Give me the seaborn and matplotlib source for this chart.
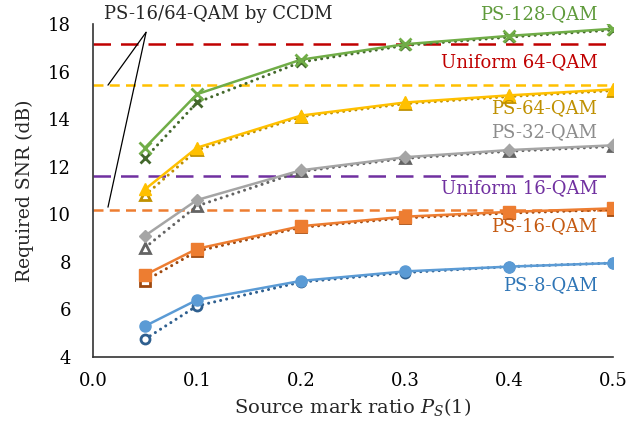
import pandas as pd
import seaborn as sns
import matplotlib.pyplot as plt

# data
ps_ratio = [0.05, 0.1, 0.2, 0.3, 0.4, 0.5]

ps8 = [5.3, 6.4, 7.2, 7.6, 7.8, 7.95]
ps8_ccdm = [4.75, 6.15, 7.15, 7.55, 7.8, 7.95]
ps16 = [7.45, 8.55, 9.5, 9.9, 10.1, 10.25]
ps16_ccdm = [7.2, 8.45, 9.45, 9.85, 10.05, 10.2]
ps32 = [9.1, 10.6, 11.85, 12.4, 12.7, 12.9]
ps32_ccdm = [8.6, 10.35, 11.8, 12.35, 12.65, 12.85]
ps64 = [11.05, 12.8, 14.15, 14.7, 15.0, 15.25]
ps64_ccdm = [10.8, 12.7, 14.1, 14.65, 14.95, 15.2]
ps128 = [12.8, 15.05, 16.5, 17.15, 17.5, 17.8]
ps128_ccdm = [12.35, 14.7, 16.4, 17.1, 17.45, 17.75]

uniform64 = 17.15
uniform64_ref = 15.43   # yellow dashed (PS-64 reference)
uniform16 = 11.6
uniform16_ref = 10.2    # orange dashed (PS-16 reference)

sns.set_style('white')
plt.rcParams['font.family'] = ['DejaVu Serif']
plt.rcParams['mathtext.fontset'] = 'dejavuserif'

fig = plt.figure(figsize=(6.41, 4.30), dpi=100)
ax = fig.add_axes([93 / 641, 1 - 357 / 430, 520 / 641, 333 / 430])

# reference horizontal lines
ax.axhline(uniform64, color='#C00000', lw=1.8, dashes=(7, 4), zorder=1)
ax.axhline(uniform64_ref, color='#FFC000', lw=1.8, dashes=(4, 2.5), zorder=1)
ax.axhline(uniform16, color='#7030A0', lw=1.8, dashes=(7, 4), zorder=1)
ax.axhline(uniform16_ref, color='#ED7D31', lw=1.8, dashes=(4, 2.5), zorder=1)

# (values, color, marker, filled)
series = [
    (ps8_ccdm, '#2E5F8F', 'o', False),
    (ps16_ccdm, '#9E480E', 's', False),
    (ps32_ccdm, '#636363', '^', False),
    (ps64_ccdm, '#BF9000', '^', False),
    (ps128_ccdm, '#43682B', 'x', False),
    (ps8, '#5B9BD5', 'o', True),
    (ps16, '#ED7D31', 's', True),
    (ps32, '#A5A5A5', 'D', True),
    (ps64, '#FFC000', '^', True),
    (ps128, '#70AD47', 'x', True),
]

for vals, col, mk, filled in series:
    df = pd.DataFrame({'x': ps_ratio, 'y': vals})
    if filled:
        sns.lineplot(data=df, x='x', y='y', ax=ax, color=col, lw=1.8,
                     marker=mk, markersize=8 if mk != 'D' else 6.5,
                     mfc=col, mec=col, mew=2 if mk == 'x' else 1, zorder=3)
    else:
        sns.lineplot(data=df, x='x', y='y', ax=ax, color=col, lw=2.2,
                     linestyle=(0, (0.01, 2.0)), dash_capstyle='round',
                     marker=mk, markersize=6.5, mfc='white' if mk != 'x' else col,
                     mec=col, mew=2, zorder=2)

ax.set_xlim(0, 0.5)
ax.set_ylim(4, 18)
ax.set_xticks([0.0, 0.1, 0.2, 0.3, 0.4, 0.5])
ax.set_yticks([4, 6, 8, 10, 12, 14, 16, 18])
ax.set_xticklabels(['0.0', '0.1', '0.2', '0.3', '0.4', '0.5'])
ax.tick_params(axis='both', direction='out', length=5, width=1.2,
               colors='#333333', labelcolor='black', labelsize=13)
ax.tick_params(axis='y', pad=11)
ax.tick_params(axis='x', pad=6)
for s in ['top', 'right']:
    ax.spines[s].set_visible(False)
for s in ['left', 'bottom']:
    ax.spines[s].set_color('#333333')
    ax.spines[s].set_linewidth(1.2)

ax.set_xlabel('Source mark ratio $P_S(1)$', fontsize=14, labelpad=4)
ax.set_ylabel('Required SNR (dB)', fontsize=13.5, labelpad=10)

# series labels
lab_kw = dict(ha='right', va='center', fontsize=13)
ax.text(0.485, 18.4, 'PS-128-QAM', color='#5E9A3A', **lab_kw)
ax.text(0.485, 16.4, 'Uniform 64-QAM', color='#C00000', **lab_kw)
ax.text(0.485, 14.45, 'PS-64-QAM', color='#BF9000', **lab_kw)
ax.text(0.485, 13.45, 'PS-32-QAM', color='#8C8C8C', **lab_kw)
ax.text(0.485, 11.1, 'Uniform 16-QAM', color='#7030A0', **lab_kw)
ax.text(0.485, 9.5, 'PS-16-QAM', color='#C55A11', **lab_kw)
ax.text(0.485, 7.0, 'PS-8-QAM', color='#2E75B6', **lab_kw)

# CCDM annotation with two pointer lines
ax.text(0.12, 18.4, 'PS-16/64-QAM by CCDM', ha='center', va='center', fontsize=13)
ax.annotate('', xy=(0.0144, 15.43), xytext=(0.051, 17.65),
            annotation_clip=False,
            arrowprops=dict(arrowstyle='-', color='black', lw=0.9,
                            shrinkA=0, shrinkB=0))
ax.annotate('', xy=(0.0144, 10.3), xytext=(0.051, 17.65),
            annotation_clip=False,
            arrowprops=dict(arrowstyle='-', color='black', lw=0.9,
                            shrinkA=0, shrinkB=0))

fig.savefig('out.png', dpi=100)
